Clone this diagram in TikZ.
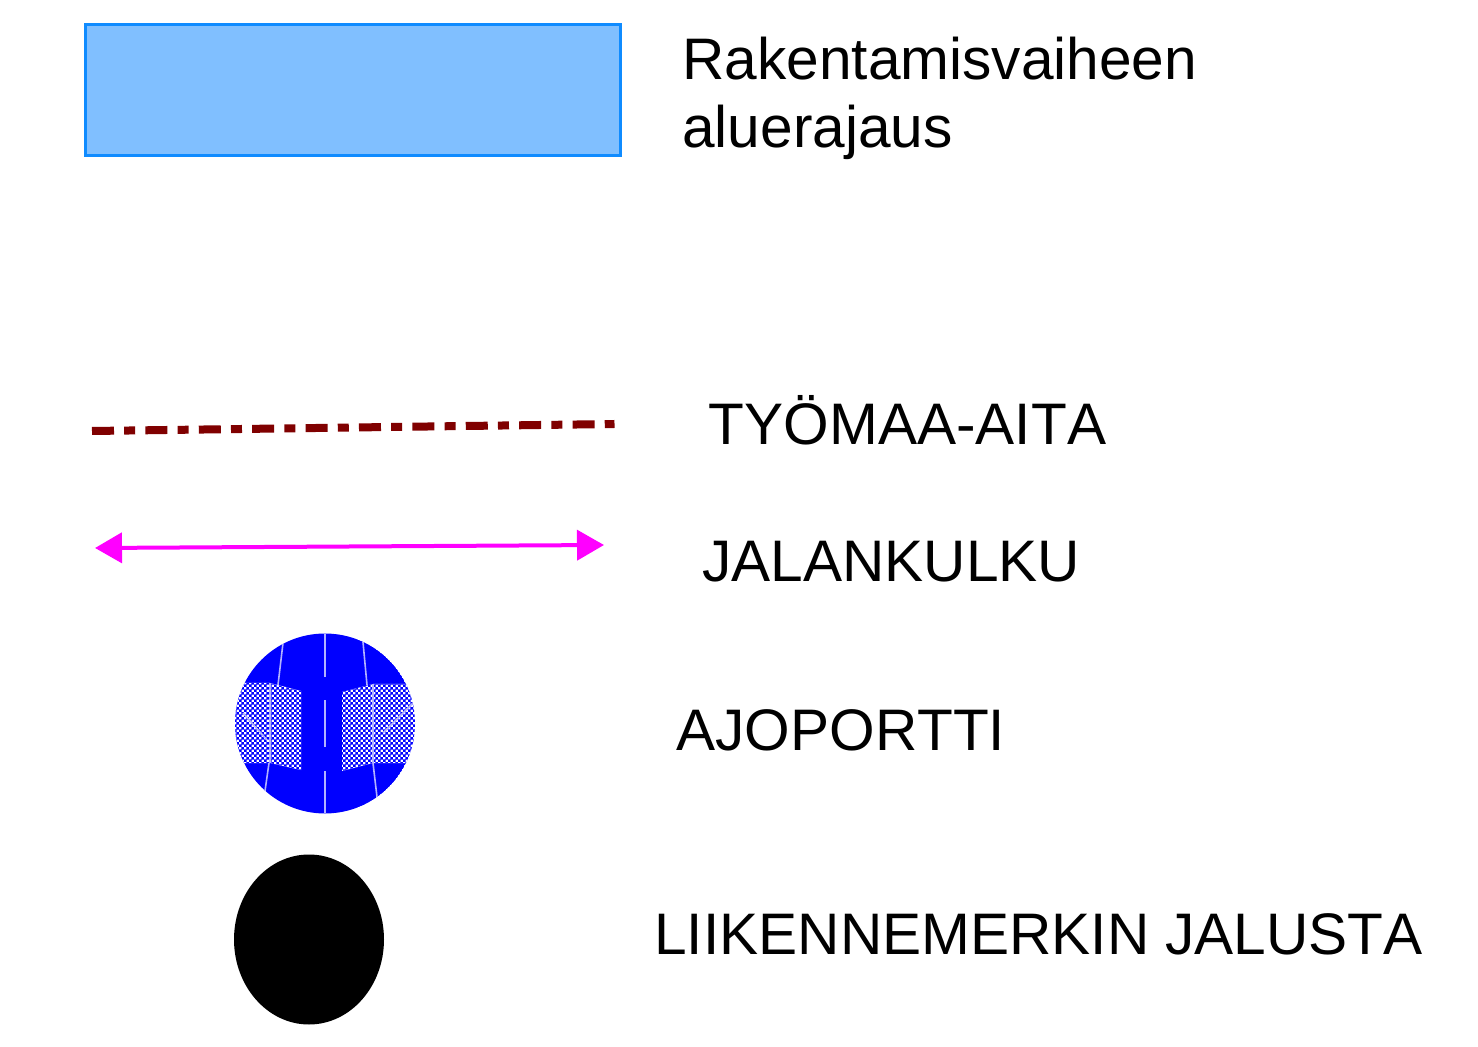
\documentclass[tikz,border=0pt]{standalone}
\usepackage{fontspec}
\setmainfont[Kerning=Off]{Liberation Sans}
\usetikzlibrary{arrows.meta,patterns,shapes.geometric}
\definecolor{areafill}{HTML}{80BFFF}
\definecolor{arealine}{HTML}{0F8BFF}
\definecolor{fenceline}{HTML}{800000}
\definecolor{walkline}{HTML}{FF00FF}
\definecolor{gateblue}{HTML}{0000FF}
\pgfdeclarepatternformonly{gatechecks}{\pgfqpoint{0pt}{0pt}}{\pgfqpoint{2.6pt}{2.6pt}}{\pgfqpoint{2.6pt}{2.6pt}}{
    \pgfpathrectangle{\pgfqpoint{0pt}{0pt}}{\pgfqpoint{1.5pt}{1.5pt}}
    \pgfpathrectangle{\pgfqpoint{1.3pt}{1.3pt}}{\pgfqpoint{1.5pt}{1.5pt}}
    \pgfusepath{fill}
}
\tikzset{
    label/.style ={
        anchor=base west,
        inner sep=0pt,
        font=\fontsize{29.3}{34}\selectfont,
        align=left
    },
    areabox/.style ={
        shape=rectangle,
        draw=arealine,
        fill=areafill,
        line width=1.25pt,
        minimum width=267.5pt,
        minimum height=65.5pt
    },
    fence/.style ={
        draw=fenceline,
        line width=4pt,
        dash pattern=on 11pt off 5.1pt on 5.5pt off 5.1pt
    },
    walk/.style ={
        draw=walkline,
        line width=2pt,
        {Triangle[length=13.5pt,width=15pt]}-{Triangle[length=13.5pt,width=15pt]}
    },
    gatemark/.style ={
        draw=white!70!gateblue,
        line width=0.8pt
    },
    base/.style ={
        shape=ellipse,
        fill=black,
        minimum width=75pt,
        minimum height=85pt,
        inner sep=0pt
    }
}

\begin{document}
\begin{tikzpicture}[x=0.5pt,y=-0.5pt]
    \useasboundingbox (0,0) rectangle (1478,1047);
    \node[areabox] (area) at(353,90) {};
    \node[label] (arealabel) at(682,148) {Rakentamisvaiheen\\aluerajaus};

    \coordinate (fencestart) at(92,431);
    \coordinate (fenceend) at(614.5,424);
    \draw[fence] (fencestart) -- (fenceend);
    \node[label] (fencelabel) at(708.5,445) {TYÖMAA-AITA};

    \coordinate (walkstart) at(95,548);
    \coordinate (walkend) at(604,545);
    \draw[walk] (walkstart) -- (walkend);
    \node[label] (walklabel) at(702,582) {JALANKULKU};

    % gate symbol
    \begin{scope}
        \clip (325,723.5) circle[radius=90];
        \fill[gateblue] (325,723.5) circle[radius=90];
        \fill[white] (230,683) -- (270,683) -- (301,691) -- (301,770) -- (270,763) -- (230,763) -- cycle;
        \fill[white] (420,684) -- (373,684) -- (342,692) -- (342,771) -- (373,763) -- (420,763) -- cycle;
        \fill[pattern=gatechecks,pattern color=gateblue] (230,683) -- (270,683) -- (301,691) -- (301,770) -- (270,763) -- (230,763) -- cycle;
        \fill[pattern=gatechecks,pattern color=gateblue] (420,684) -- (373,684) -- (342,692) -- (342,771) -- (373,763) -- (420,763) -- cycle;
        \foreach \ya/\yb in {633/677,700/747,771/813}
            \draw[gatemark] (325,\ya) -- (325,\yb);
        \draw[gatemark] (283,643) -- (278,685);
        \draw[gatemark] (269,763) -- (265,791);
        \draw[gatemark] (363,642) -- (367,685);
        \draw[gatemark] (373,763) -- (377,797);
        \draw[gatemark] (270,683) -- (270,763);
        \draw[gatemark] (373,684) -- (373,763);
        \draw[gatemark] (243,713) -- (267,740);
        \draw[gatemark] (413,703) -- (383,733);
    \end{scope}
    \node[label] (gatelabel) at(676,750) {AJOPORTTI};

    \node[base] (sign) at(309,939.5) {};
    \node[label] (signlabel) at(654,954) {LIIKENNEMERKIN JALUSTA};
\end{tikzpicture}
\end{document}
